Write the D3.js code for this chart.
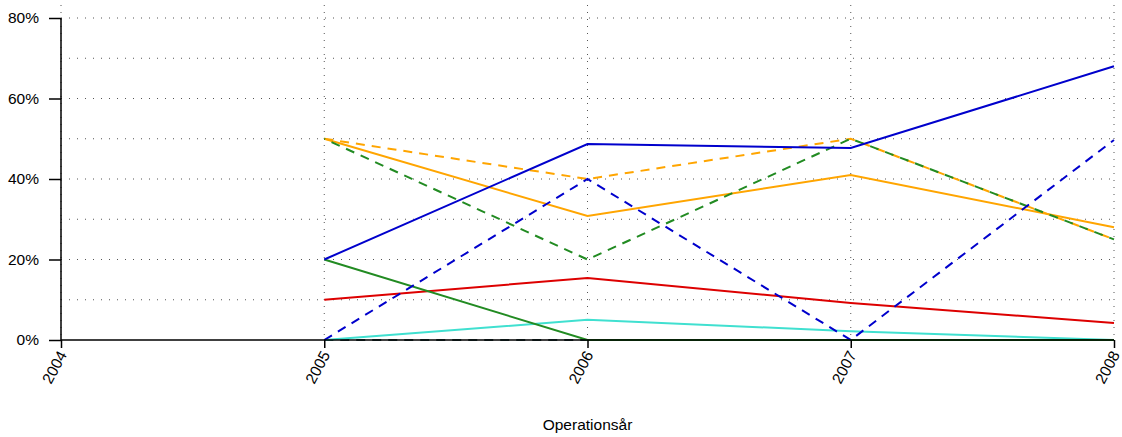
<!DOCTYPE html>
<html>
<head>
<meta charset="utf-8">
<script src="https://cdn.jsdelivr.net/npm/d3@7"></script>
<style>
  body { margin: 0; background: #fff; }
  svg text { font-family: "Liberation Sans", Arial, sans-serif; font-size: 15.5px; fill: #000; }
</style>
</head>
<body>
<div id="chart"></div>
<script>
// år på x-axeln
const years = [2004, 2005, 2006, 2007, 2008];
const yTicks = [0, 20, 40, 60, 80];
const gridY = [10, 20, 30, 40, 50, 60, 70, 80];

// serier (andel i %), år 2005-2008
const seriesYears = [2005, 2006, 2007, 2008];
const graySolid0 = [0, 0, 0, 0];
const blueSolid = [20, 48.7, 47.7, 68];
const blueDashed = [0, 40, 0, 49.7];
const orangeSolid = [50, 30.8, 41, 28];
const orangeDashed = [50, 40, 50, 25];
const greenDashed = [50, 20, 50, 25];
const greenSolid = [20, 0, 0, 0];
const redSolid = [10, 15.4, 9.2, 4.2];
const turquoise = [0, 5, 2.2, 0];

const series = [
  { values: graySolid0, color: "#2f4f4f", dash: "9,7" },
  { values: turquoise, color: "#40e0d0", dash: null },
  { values: redSolid, color: "#dd0000", dash: null },
  { values: greenSolid, color: "#228b22", dash: null },
  { values: orangeSolid, color: "#ffa500", dash: null },
  { values: orangeDashed, color: "#ffa500", dash: "9,7" },
  { values: greenDashed, color: "#228b22", dash: "9,7", offset: 8 },
  { values: blueDashed, color: "#0000cc", dash: "9,7" },
  { values: blueSolid, color: "#0000cc", dash: null }
];

const W = 1122, H = 437;
const svg = d3.select("#chart").append("svg").attr("width", W).attr("height", H);

const x = d3.scaleLinear().domain([2004, 2008]).range([61, 1114]);
const y = d3.scaleLinear().domain([0, 80]).range([340, 18]);

// rutnät
svg.append("g").selectAll("line").data(gridY).enter().append("line")
  .attr("x1", x(2004)).attr("x2", x(2008))
  .attr("y1", d => y(d)).attr("y2", d => y(d))
  .attr("stroke", "#555").attr("stroke-width", 1)
  .attr("stroke-dasharray", "1,7");

svg.append("g").selectAll("line").data(years).enter().append("line")
  .attr("x1", d => x(d)).attr("x2", d => x(d))
  .attr("y1", 5).attr("y2", y(0))
  .attr("stroke", "#555").attr("stroke-width", 1)
  .attr("stroke-dasharray", "1,6");

// linjer
const line = d3.line()
  .x((d, i) => x(seriesYears[i]))
  .y(d => y(d));

svg.append("g").selectAll("path").data(series).enter().append("path")
  .attr("d", d => line(d.values))
  .attr("fill", "none")
  .attr("stroke", d => d.color)
  .attr("stroke-width", 2)
  .attr("stroke-dasharray", d => d.dash)
  .attr("stroke-dashoffset", d => d.offset || 0);

// y-axel
const yAxis = d3.axisLeft(y).tickValues(yTicks).tickFormat(d => d + "%")
  .tickSize(12).tickPadding(10);
const gy = svg.append("g").attr("transform", `translate(${x(2004)},0)`).call(yAxis);
gy.attr("font-size", null).attr("font-family", null);
gy.select(".domain").attr("stroke", "#000").attr("stroke-width", 1.5).attr("d", `M0,${y(80)}V${y(0)}`);
gy.selectAll(".tick line").attr("stroke", "#000").attr("stroke-width", 1.5);

// x-axel
const xAxis = d3.axisBottom(x).tickValues(years).tickFormat(d3.format("d"))
  .tickSize(8).tickPadding(4);
const gx = svg.append("g").attr("transform", `translate(0,${y(0)})`).call(xAxis);
gx.attr("font-size", null).attr("font-family", null);
gx.select(".domain").attr("stroke", "#000").attr("stroke-width", 1.5).attr("d", `M${x(2004)},0H${x(2008)}`);
gx.selectAll(".tick line").attr("stroke", "#000").attr("stroke-width", 1.5);
gx.selectAll("text")
  .attr("text-anchor", "end")
  .attr("dy", "0.35em")
  .attr("y", 0)
  .attr("transform", "translate(1,12) rotate(-62)");

svg.append("text")
  .attr("x", x(2006)).attr("y", 430)
  .attr("text-anchor", "middle")
  .text("Operationsår");
</script>
</body>
</html>
